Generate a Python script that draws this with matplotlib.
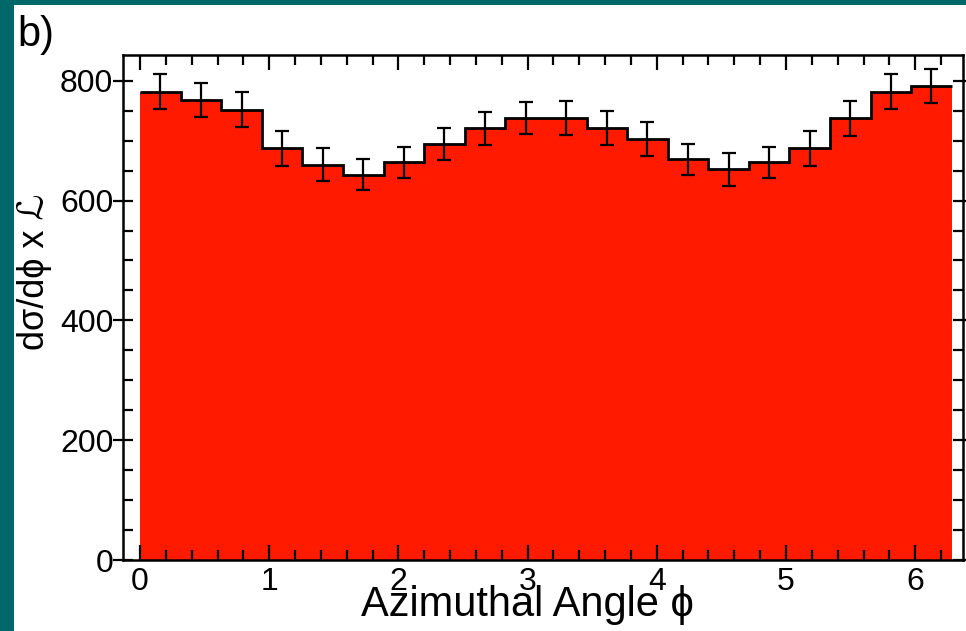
import numpy as np
import matplotlib
matplotlib.use("Agg")
import matplotlib.pyplot as plt
from matplotlib.ticker import MultipleLocator
from matplotlib.patches import Rectangle

# azimuthal distribution, 20 bins over [0, 2pi]
n_bins = 20
counts = [782, 768, 752, 687, 660, 643, 664, 694, 721, 738,
          738, 721, 703, 669, 652, 664, 687, 737, 782, 791]
errors = [29.5, 28.5, 28.5, 28.5, 27, 26, 26, 27, 27.5, 27,
          28.5, 28.5, 28, 26, 27.5, 26, 28.5, 28.5, 29, 28.5]
x_ticks = [0, 1, 2, 3, 4, 5, 6]
y_ticks = [0, 200, 400, 600, 800]

edges = np.linspace(0, 2 * np.pi, n_bins + 1)
centers = 0.5 * (edges[:-1] + edges[1:])

plt.rcParams["font.family"] = ["Liberation Sans", "DejaVu Sans"]

fig = plt.figure(figsize=(9.66, 6.31), dpi=100, facecolor="#006868")
# white panel inside the teal frame
fig.patches.append(Rectangle((14 / 966, 0), 1, 1 - 5 / 631, transform=fig.transFigure,
                             facecolor="white", edgecolor="none", zorder=-5))

ax = fig.add_axes([123 / 966, 71 / 631, 840 / 966, 505 / 631])
ax.set_zorder(1)
ax.stairs(counts, edges, fill=True, color="#ff1a00", zorder=1)
ax.stairs(counts, edges, baseline=None, color="black", lw=2.0, zorder=2)
ax.errorbar(centers, counts, yerr=errors, fmt="none", ecolor="black",
            elinewidth=1.6, capsize=5, capthick=1.6, zorder=3)

ax.set_xlim(-0.132, 6.37)
ax.set_ylim(0, 843)
ax.set_xticks(x_ticks)
ax.set_yticks(y_ticks)
ax.xaxis.set_minor_locator(MultipleLocator(0.2))
ax.yaxis.set_minor_locator(MultipleLocator(50))
ax.tick_params(axis="x", which="both", direction="in", top=True, labelsize=23, pad=5, width=1.6)
ax.tick_params(axis="x", which="major", length=11)
ax.tick_params(axis="x", which="minor", length=7)
ax.tick_params(axis="y", which="both", right=True, labelsize=23, width=1.6)
ax.tick_params(axis="y", which="major", direction="inout", length=14, pad=0)
ax.tick_params(axis="y", which="minor", direction="in", length=7)
for s in ax.spines.values():
    s.set_linewidth(1.8)

fig.text(527 / 966, 1 - 605 / 631, "Azimuthal Angle ϕ", ha="center", va="center",
         fontsize=30, zorder=2)
fig.text(35 / 966, 1 - 272 / 631, "dσ/dϕ x ℒ", ha="center", va="center",
         rotation=90, fontsize=26)
fig.text(17 / 966, 1 - 15 / 631, "b)", ha="left", va="top", fontsize=30)

fig.savefig("out.png", dpi=100, facecolor=fig.get_facecolor())
